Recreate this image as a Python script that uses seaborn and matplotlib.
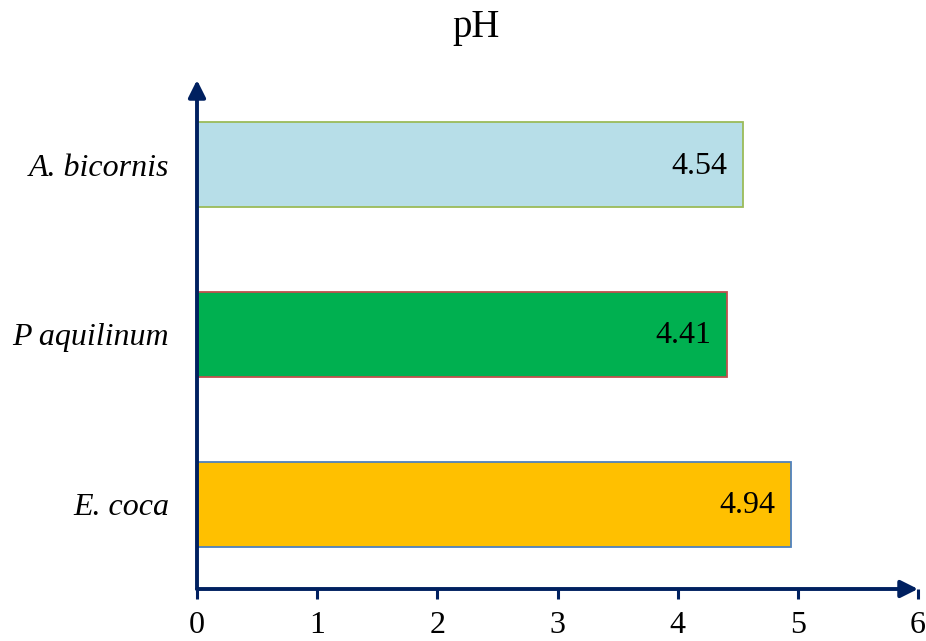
import matplotlib
matplotlib.use("Agg")
import matplotlib.pyplot as plt
import seaborn as sns
import pandas as pd

# pH of three plant species
species = ["A. bicornis", "P aquilinum", "E. coca"]
ph_values = [4.54, 4.41, 4.94]
x_ticks = [0, 1, 2, 3, 4, 5, 6]

fill_colors = ["#B7DEE8", "#00B050", "#FFC000"]
edge_colors = ["#9BBB59", "#C0504D", "#4F81BD"]
axis_color = "#002060"

df = pd.DataFrame({"species": species, "ph": ph_values})

sns.set_style("white")
plt.rcParams["font.family"] = ["Liberation Serif", "DejaVu Serif"]
plt.rcParams["text.color"] = "black"
plt.rcParams["xtick.labelcolor"] = "black"
plt.rcParams["ytick.labelcolor"] = "black"

fig = plt.figure(figsize=(9.26, 6.41), dpi=100)
ax = fig.add_axes([197 / 926, 1 - 589 / 641, (918 - 197) / 926, (589 - 80) / 641])

sns.barplot(data=df, x="ph", y="species", hue="species", palette=fill_colors,
            orient="h", width=0.5, legend=False, ax=ax, saturation=1)

for patch, ec in zip(ax.patches, edge_colors):
    patch.set_edgecolor(ec)
    patch.set_linewidth(1.3)

for i, v in enumerate(ph_values):
    ax.annotate(f"{v:.2f}", xy=(v, i), xytext=(-11, -1), textcoords="offset points",
                ha="right", va="center", fontsize=23, color="black")

ax.set_xlim(0, 6)
ax.set_ylim(2.5, -0.5)
ax.set_xticks(x_ticks)
ax.set_xticklabels([str(t) for t in x_ticks])
ax.set_xlabel("")
ax.set_ylabel("")

for s in ax.spines.values():
    s.set_visible(False)

ax.tick_params(axis="x", which="both", bottom=True, direction="out", length=7,
               width=2.2, color=axis_color, labelsize=23, labelcolor="black", pad=9)
ax.tick_params(axis="y", length=0, labelsize=23, labelcolor="black", pad=20)
for lab in ax.get_yticklabels():
    lab.set_fontstyle("italic")

# axis lines with arrowheads
arrow_kw = dict(arrowstyle="-|>", color=axis_color, lw=2.8, mutation_scale=26,
                shrinkA=0, shrinkB=0)
ax.annotate("", xy=(1.0, 0), xytext=(0, 0), xycoords="axes fraction",
            textcoords="axes fraction", arrowprops=arrow_kw, annotation_clip=False)
ax.annotate("", xy=(0, 1.0), xytext=(0, 0), xycoords="axes fraction",
            textcoords="axes fraction", arrowprops=arrow_kw, annotation_clip=False)

fig.text(476 / 926, 1 - 27 / 641, "pH", ha="center", va="center", fontsize=28)

fig.savefig("out.png", dpi=100)
